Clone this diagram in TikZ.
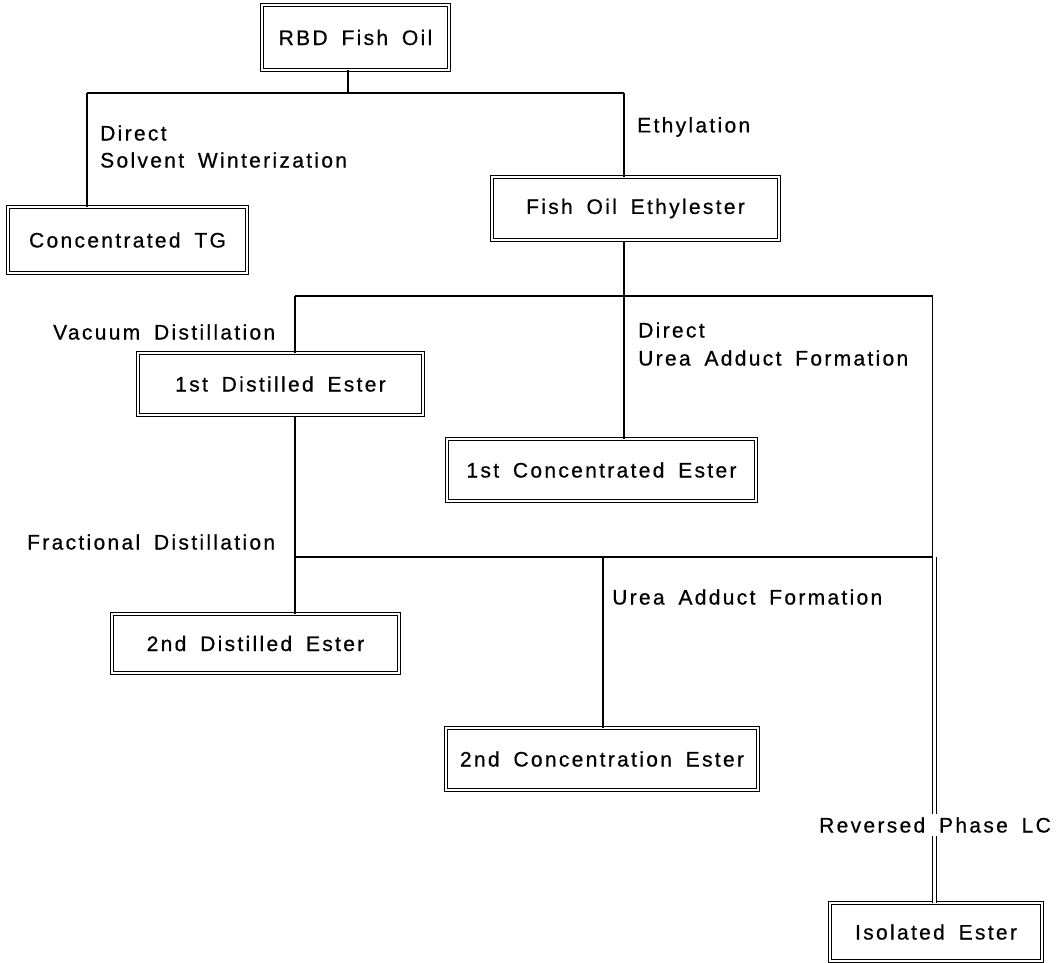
\documentclass[tikz,border=0pt]{standalone}
\usepackage{fontspec}
\setmainfont{Liberation Sans}[LetterSpace=11, WordSpace=1.7, FakeBold=0.6]
\begin{document}
\begin{tikzpicture}[x=1pt,y=-1pt,
  box/.style={draw, line width=1pt, double, double distance=2.3pt, inner sep=0pt, align=center, fill=white},
  lbl/.style={anchor=west, inner sep=1pt},
  conn/.style={line width=1.1pt},
  every node/.append style={font=\fontsize{21}{25}\selectfont}]
\useasboundingbox (0,0) rectangle (1057,963);
% boxes
\node[box, minimum width=187pt, minimum height=65pt] (rbd) at (355.5,37.5) {RBD Fish Oil};
\node[box, minimum width=239pt, minimum height=66pt] (ctg) at (127.5,240) {Concentrated TG};
\node[box, minimum width=287pt, minimum height=63pt] (fe) at (635.5,208.5) {Fish Oil Ethylester};
\node[box, minimum width=285pt, minimum height=62pt] (d1) at (280.5,384) {1st Distilled Ester};
\node[box, minimum width=309pt, minimum height=62pt] (c1) at (601.5,470) {1st Concentrated Ester};
\node[box, minimum width=287pt, minimum height=59pt] (d2) at (255.5,643.5) {2nd Distilled Ester};
\node[box, minimum width=312pt, minimum height=62pt] (c2) at (602,759) {2nd Concentration Ester};
\node[box, minimum width=212pt, minimum height=58pt] (iso) at (936,932) {Isolated Ester};
% junction coordinates
\coordinate (j0) at (348,93);
\coordinate (jl) at (87,93);
\coordinate (jr) at (624,93);
\coordinate (k0) at (624,296);
\coordinate (kl) at (295,296);
\coordinate (kr) at (932.5,296);
\coordinate (m0) at (603,557);
\coordinate (ml) at (295,557);
\coordinate (mr) at (932.5,557);
\coordinate (mrd) at (934.5,557);
% connectors
\draw[conn] (rbd.south -| j0) -- (j0);
\draw[conn] (jl) -- (jr);
\draw[conn] (jl) -- (ctg.north -| jl);
\draw[conn] (jr) -- (fe.north -| jr);
\draw[conn] (fe.south -| k0) -- (k0);
\draw[conn] (kl) -- (kr);
\draw[conn] (kl) -- (d1.north -| kl);
\draw[conn] (d1.south -| kl) -- (d2.north -| kl);
\draw[conn] (k0) -- (c1.north -| k0);
\draw[conn] (kr) -- (mr);
\draw[conn] (ml) -- (mr);
\draw[conn] (m0) -- (c2.north -| m0);
\draw[line width=0.9pt, double, double distance=2.4pt] (mrd) -- (iso.north -| mrd);
% labels
\node[lbl] (l1) at (99,133) {Direct};
\node[lbl] (l2) at (99,160) {Solvent Winterization};
\node[lbl] (l3) at (636,127) {Ethylation};
\node[lbl] (l4) at (52,332) {Vacuum Distillation};
\node[lbl] (l5) at (637,330) {Direct};
\node[lbl] (l6) at (637,358) {Urea Adduct Formation};
\node[lbl] (l7) at (26,542) {Fractional Distillation};
\node[lbl] (l8) at (611,597) {Urea Adduct Formation};
\node[lbl, fill=white, inner sep=3pt] (l9) at (816,825) {Reversed Phase LC};
\end{tikzpicture}
\end{document}
